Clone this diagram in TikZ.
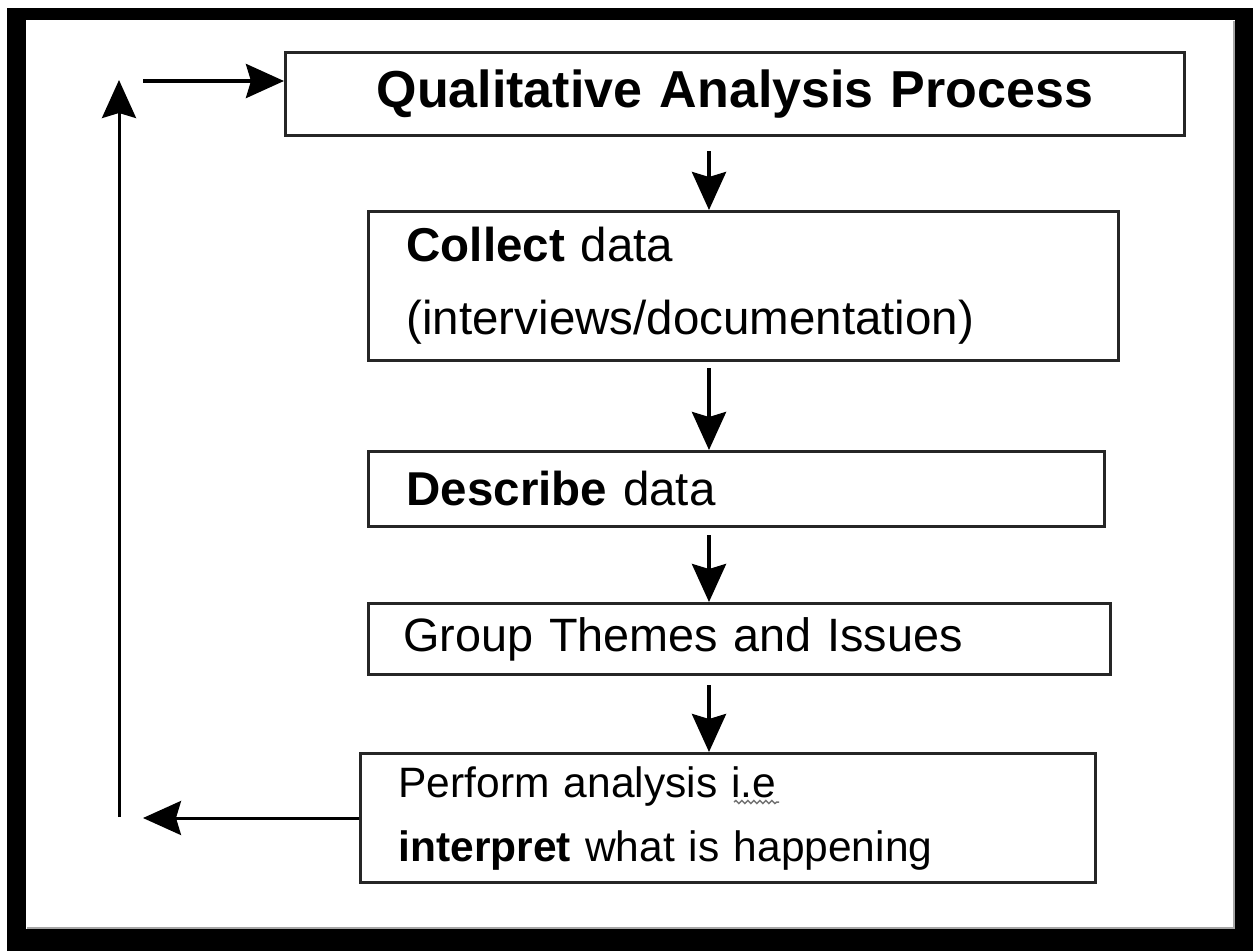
\documentclass[tikz,border=0pt]{standalone}
\usepackage{fontspec}
\setmainfont{Liberation Sans}
\usetikzlibrary{arrows.meta,calc,decorations.pathmorphing}
\tikzset{
  boxnode/.style={draw=black!85, line width=3pt, anchor=north west, inner ysep=0pt, inner xsep=38pt, align=left},
  arr/.style={line width=4pt, -{Stealth[length=38pt,width=34pt,inset=5pt]}},
  bodyfont/.style={font=\fontsize{47.5}{73}\selectfont},
  perffont/.style={font=\fontsize{42.5}{64}\selectfont},
}
\begin{document}
\begin{tikzpicture}[x=1pt,y=-1pt]
\useasboundingbox (0,0) rectangle (1253,951);
\fill[white] (0,0) rectangle (1253,951);
\fill[black] (7,8) rectangle (1253,951);
\fill[white] (26,20) rectangle (1235,929);
\draw[black!35, line width=2pt] (27,928) -- (1234,928) -- (1234,21);

\node[boxnode, align=center, inner xsep=0pt, text width=899pt, minimum height=83pt,
      font=\fontsize{52}{60}\selectfont\bfseries] (title) at (284,51) {Qualitative Analysis Process};
\node[boxnode, bodyfont, text width=674pt, minimum height=149pt] (collect) at (367,210)
  {\textbf{Collect} data\\(interviews/documentation)};
\node[boxnode, bodyfont, text width=660pt, minimum height=75pt] (describe) at (367,450)
  {\textbf{Describe} data};
\node[boxnode, font=\fontsize{46.8}{60}\selectfont, inner xsep=35pt, text width=672pt, minimum height=71pt] (group) at (367,602)
  {Group Themes and Issues};
\node[boxnode, perffont, text width=659pt, minimum height=129pt] (perform) at (359,752)
  {Perform analysis i.e\\\textbf{interpret} what is happening};

\draw[black!55, line width=1.5pt, decorate, decoration={snake, segment length=6pt, amplitude=1.5pt}]
  (734,802) -- (779,802);

\coordinate (ax) at (709,0);
\draw[arr] ($(title.south -| ax)+(0,14)$) -- (collect.north -| ax);
\draw[arr] ($(collect.south -| ax)+(0,6)$) -- (describe.north -| ax);
\draw[arr] ($(describe.south -| ax)+(0,7)$) -- (group.north -| ax);
\draw[arr] ($(group.south -| ax)+(0,9)$) -- (perform.north -| ax);

\coordinate (bl) at (143,0);
\coordinate (vb) at (119,817);
\coordinate (vt) at (119,80);
\coordinate (tl) at (143,81);
\draw[arr, line width=3pt] (perform.west) -- (perform.west -| bl);
\draw[arr, line width=3pt] (vb) -- (vt);
\draw[arr] (tl) -- (tl -| title.west);
\end{tikzpicture}
\end{document}
